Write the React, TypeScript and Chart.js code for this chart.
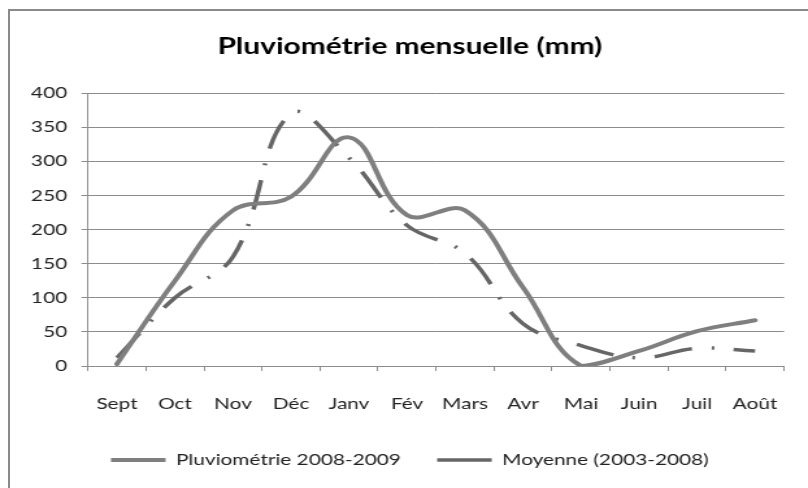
import React, { useEffect, useRef } from "react";
import { Chart, registerables } from "chart.js";

Chart.register(...registerables);

const months = ["Sept", "Oct", "Nov", "Déc", "Janv", "Fév", "Mars", "Avr", "Mai", "Juin", "Juil", "Août"];
const pluvio2008 = [3, 125, 228, 248, 335, 221, 228, 115, 0, 22, 51, 67];
const moyenne2003 = [12, 100, 160, 370, 305, 206, 165, 62, 30, 12, 26, 22];
const yMin = 0;
const yMax = 400;
const yStep = 50;

const INNER_W = 622;
const OUTER_W = 808;
const H = 488;

export default function App() {
  const ref = useRef<HTMLCanvasElement | null>(null);

  useEffect(() => {
    const canvas = ref.current;
    if (!canvas) return;
    const font = (size: number, weight: string = "normal") => ({ family: "Lato", size, weight: weight as any, lineHeight: 1.2 });
    const grey = "#8c8c8c";
    const chart = new Chart(canvas, {
      type: "line",
      data: {
        labels: months,
        datasets: [
          {
            label: "Pluviométrie 2008-2009",
            data: pluvio2008,
            borderColor: "#7f7f7f",
            backgroundColor: "#7f7f7f",
            borderWidth: 4,
            pointRadius: 0,
            tension: 0.4,
            fill: false,
            borderCapStyle: "round",
          },
          {
            label: "Moyenne (2003-2008)",
            data: moyenne2003,
            borderColor: "#666666",
            backgroundColor: "#666666",
            borderWidth: 3.5,
            borderDash: [30, 15, 2, 15],
            pointRadius: 0,
            tension: 0.4,
            fill: false,
          },
        ],
      },
      options: {
        responsive: false,
        animation: false,
        devicePixelRatio: 1,
        layout: { padding: { left: 22, right: 13, top: 0, bottom: 10 } },
        plugins: {
          title: {
            display: true,
            text: "Pluviométrie mensuelle (mm)",
            color: "#000",
            font: font(23, "bold"),
            padding: { top: 33, bottom: 32.4 },
          },
          legend: {
            position: "bottom",
            labels: {
              usePointStyle: true,
              pointStyle: "line",
              pointStyleWidth: 42,
              boxHeight: 16,
              padding: 28,
              color: "#222",
              font: font(16),
            },
          },
          tooltip: { enabled: false },
        },
        scales: {
          x: {
            offset: true,
            grid: {
              display: true,
              offset: true,
              drawOnChartArea: false,
              drawTicks: true,
              tickLength: 5,
              color: grey,
            },
            border: { color: grey, width: 1 },
            ticks: { color: "#222", font: font(16), padding: 23, maxRotation: 0, autoSkip: false },
            afterFit: (s: any) => {
              s.height = 58;
            },
          },
          y: {
            min: yMin,
            max: yMax,
            ticks: { stepSize: yStep, color: "#222", font: font(16), padding: 11 },
            grid: { color: grey, tickLength: 5 },
            border: { color: grey, width: 1 },
            afterFit: (s: any) => {
              s.width = 45.7;
            },
          },
        },
      },
    });
    return () => chart.destroy();
  }, []);

  return (
    <div style={{ position: "absolute", left: 0, top: 0, width: OUTER_W, height: H, overflow: "hidden", background: "#fff" }}>
      <div
        style={{
          position: "absolute",
          left: 8,
          top: 9,
          width: 900,
          height: 600,
          borderLeft: "2px solid #8a8a8a",
          borderTop: "2px solid #8a8a8a",
        }}
      />
      <div
        style={{
          position: "absolute",
          left: 0,
          top: 0,
          width: INNER_W,
          height: H,
          transform: `scaleX(${OUTER_W / INNER_W})`,
          transformOrigin: "0 0",
        }}
      >
        <canvas ref={ref} width={INNER_W} height={H} style={{ display: "block", width: INNER_W, height: H }} />
      </div>
    </div>
  );
}
